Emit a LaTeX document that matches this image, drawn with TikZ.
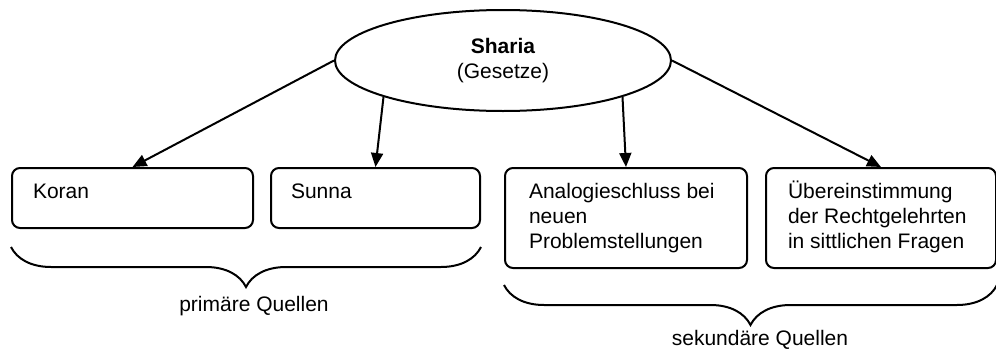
\documentclass[tikz,border=0pt]{standalone}
\usepackage{fontspec}
\setmainfont{Liberation Sans}
\usetikzlibrary{positioning,shapes.geometric,arrows.meta,decorations.pathreplacing}

\tikzset{
  quelle/.style={draw, rounded corners=8pt, anchor=north west, inner sep=0pt},
  quelltext/.style={anchor=base west, align=left, inner sep=0pt},
  klammer/.style={decorate, decoration={brace, mirror, amplitude=40pt}},
}

\begin{document}
\begin{tikzpicture}[x=1pt, y=-1pt, line width=2pt,
    >={Triangle[length=14pt,width=12pt]},
    font=\fontsize{21}{25}\selectfont]
\useasboundingbox (0,0) rectangle (996,351);
% Oberbegriff
\node[draw, ellipse, minimum width=336pt, minimum height=101pt, inner sep=0pt, align=center] (sharia) at (503,60.5) {\textbf{Sharia}\\(Gesetze)};
% Quellen
\node[quelle, minimum width=241pt, minimum height=60pt] (koran) at (11,167) {};
\node[quelle, minimum width=209pt, minimum height=60pt] (sunna) at (270,167) {};
\node[quelle, minimum width=242pt, minimum height=100pt] (analog) at (504,167) {};
\node[quelle, minimum width=230pt, minimum height=100pt] (ueber) at (765,167) {};
\node[quelltext] (koranT) at ([shift={(21,31.5)}]koran.north west) {Koran};
\node[quelltext] (sunnaT) at ([shift={(20,31.5)}]sunna.north west) {Sunna};
% base = letzte Zeile
\node[quelltext] (analogT) at ([shift={(24,81.5)}]analog.north west) {Analogieschluss bei\\neuen\\Problemstellungen};
\node[quelltext] (ueberT) at ([shift={(22,81.5)}]ueber.north west) {Übereinstimmung\\der Rechtgelehrten\\in sittlichen Fragen};
% Pfeile
\draw[->] (sharia.west) -- (koran.north);
\draw[->] (sharia.south west) -- (sunna.north);
\draw[->] (sharia.south east) -- (analog.north);
\draw[->] (sharia.east) -- (ueber.north);
% Klammern
\draw[klammer] ([yshift=-18pt]koran.south west) -- ([yshift=-18pt]sunna.south east);
\draw[klammer] ([yshift=-16pt]analog.south west) -- ([yshift=-16pt]ueber.south east);
\node[anchor=base] (primaer) at (254,311.7) {primäre Quellen};
\node[anchor=base] (sekundaer) at (760,345) {sekundäre Quellen};
\end{tikzpicture}
\end{document}
